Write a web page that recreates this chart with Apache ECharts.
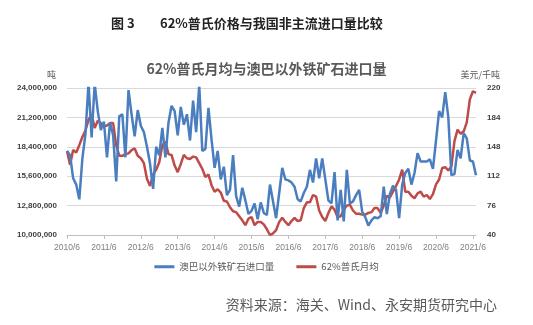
<!DOCTYPE html>
<html><head><meta charset="utf-8">
<script src="https://cdn.jsdelivr.net/npm/echarts@6/dist/echarts.min.js"></script>
<style>html,body{margin:0;padding:0;background:#fff}#c{width:533px;height:325px}</style>
</head><body><div id="c"></div>
<script>
// Month categories 2010/6 .. 2021/7
const startYear = 2010, startMonth = 6, nMonths = 134;
const months = [];
for (let k = 0; k < nMonths; k++) { const m = startMonth - 1 + k; months.push((startYear + Math.floor(m / 12)) + '/' + (m % 12 + 1)); }

// 澳巴以外铁矿石进口量 (million tonnes)
const importVolumeMt = [
  18.0, 17.6, 15.4, 14.8, 13.4, 17.3, 19.6, 24.5, 19.3, 24.4,
  21.8, 20.0, 20.8, 17.4, 20.7, 19.5, 15.1, 21.3, 21.5, 17.4,
  23.8, 21.5, 19.4, 21.9, 20.4, 19.8, 18.4, 16.8, 14.4, 18.4,
  17.6, 20.2, 17.4, 20.7, 22.3, 21.8, 19.5, 22.2, 20.5, 21.5,
  19.0, 22.8, 19.8, 24.3, 18.0, 18.2, 22.1, 19.1, 16.4, 18.0,
  15.3, 16.5, 13.8, 14.3, 17.6, 13.7, 12.7, 14.5, 13.3, 12.0,
  12.3, 13.0, 11.5, 13.1, 12.1, 11.9, 14.8, 13.2, 11.6, 14.0,
  16.4, 15.3, 15.2, 15.0, 14.6, 13.4, 13.2, 14.0, 14.6, 16.2,
  15.0, 17.3, 15.4, 17.3, 15.3, 13.3, 13.0, 16.0, 11.4, 14.3,
  11.3, 16.2, 13.0, 13.2, 13.8, 14.3, 12.2, 11.7, 10.9, 11.4,
  11.7, 11.6, 11.8, 14.6, 12.0, 13.9, 14.7, 14.3, 11.6, 14.8,
  15.9, 16.3, 14.8, 15.9, 17.8, 17.0, 17.0, 17.0, 17.2, 16.3,
  19.0, 21.8, 21.2, 23.6, 21.2, 15.7, 15.8, 18.1, 17.3, 19.7,
  19.2, 17.1, 17.0, 15.7
];
// 62%普氏月均 (美元/千吨)
const plattsAvg = [
  143, 126, 144, 141, 150, 160, 168,
  181, 188, 171, 180, 177, 173, 174, 177, 177, 150, 137, 137,
  139, 140, 144, 146, 137, 134, 128, 109, 100, 114, 120, 129,
  150, 154, 139, 138, 125, 117, 127, 138, 134, 133, 136, 135,
  128, 121, 111, 114, 101, 93, 96, 92, 82, 81, 74, 69,
  68, 63, 58, 52, 60, 62, 52, 56, 56, 53, 47, 40,
  42, 46, 56, 61, 56, 52, 57, 61, 57, 58, 73, 80,
  80, 89, 87, 70, 62, 57, 67, 75, 71, 62, 63, 71,
  76, 77, 70, 66, 66, 65, 65, 67, 68, 73, 73, 67,
  76, 88, 86, 93, 100, 108, 120, 93, 93, 88, 85, 91,
  93, 87, 89, 84, 90, 102, 108, 122, 123, 119, 124, 155,
  169, 164, 167, 178, 206, 216, 214
];
const seriesNames = ['澳巴以外铁矿石进口量', '62%普氏月均'];
const leftMin = 10000000, leftMax = 24000000, leftStep = 2800000;
const rightMin = 40, rightMax = 220, rightStep = 36;

const chart = echarts.init(document.getElementById('c'), null, { renderer: 'canvas' });
const fontCJK = '"Noto Sans CJK SC", "Noto Sans", sans-serif';
const fontNum = '"Liberation Sans", Arial, sans-serif';
chart.setOption({
  backgroundColor: '#fff',
  animation: false,
  title: {
    text: '62%普氏月均与澳巴以外铁矿石进口量',
    left: 'center', top: 57,
    textStyle: { fontFamily: fontCJK, fontSize: 14, fontWeight: 'bold', color: '#595959' }
  },
  graphic: [
    { type: 'text', left: 111, top: 17, style: { text: '图 3', fontFamily: fontCJK, fontSize: 13, fontWeight: 'bold', fill: '#222' } },
    { type: 'text', left: 160, top: 17, style: { text: '62%普氏价格与我国非主流进口量比较', fontFamily: fontCJK, fontSize: 13, fontWeight: 'bold', fill: '#222' } },
    { type: 'text', left: 47, top: 70, style: { text: '吨', fontFamily: fontCJK, fontSize: 9, fill: '#595959' } },
    { type: 'text', right: 33, top: 70, style: { text: '美元/千吨', fontFamily: fontCJK, fontSize: 9, fill: '#595959' } },
    { type: 'text', right: 36, top: 298, style: { text: '资料来源：海关、Wind、永安期货研究中心', fontFamily: fontCJK, fontSize: 14, fill: '#595959' } }
  ],
  legend: {
    data: seriesNames, left: 'center', top: 257, itemGap: 22,
    icon: 'rect', itemWidth: 20, itemHeight: 3,
    textStyle: { fontFamily: fontCJK, fontSize: 9.5, color: '#595959' }
  },
  grid: { left: 67, right: 57, top: 88, bottom: 90, containLabel: false },
  xAxis: {
    type: 'category', data: months, boundaryGap: false,
    axisLine: { lineStyle: { color: '#bfbfbf', width: 1 } },
    axisTick: { show: true, interval: 11, length: 4, lineStyle: { color: '#bfbfbf' } },
    axisLabel: { interval: 11, margin: 8, fontFamily: fontNum, fontSize: 8.5, color: '#7f7f7f' },
    splitLine: { show: false }
  },
  yAxis: [
    {
      type: 'value', min: 0, max: leftMax - leftMin, interval: leftStep,
      axisLine: { show: false }, axisTick: { show: false },
      axisLabel: { margin: 10, fontFamily: fontNum, fontSize: 8, fontWeight: 'bold', color: '#404040',
        formatter: v => (v + leftMin).toLocaleString('en-US') },
      splitLine: { lineStyle: { color: '#d9d9d9', width: 1 } }
    },
    {
      type: 'value', min: 0, max: rightMax - rightMin, interval: rightStep,
      axisLine: { show: false }, axisTick: { show: false },
      axisLabel: { margin: 11, fontFamily: fontNum, fontSize: 8, fontWeight: 'bold', color: '#404040',
        formatter: v => String(v + rightMin) },
      splitLine: { show: false }
    }
  ],
  series: [
    {
      name: seriesNames[0], type: 'line', yAxisIndex: 0, z: 3,
      data: importVolumeMt.map(v => Math.round(v * 1e6) - leftMin),
      symbol: 'none', clip: true,
      lineStyle: { color: '#4a7ebf', width: 2.5 }, itemStyle: { color: '#4a7ebf' }
    },
    {
      name: seriesNames[1], type: 'line', yAxisIndex: 1, z: 2,
      data: plattsAvg.map(v => v - rightMin),
      symbol: 'none', clip: true,
      lineStyle: { color: '#be4b48', width: 2.5 }, itemStyle: { color: '#be4b48' }
    }
  ]
});
</script></body></html>
